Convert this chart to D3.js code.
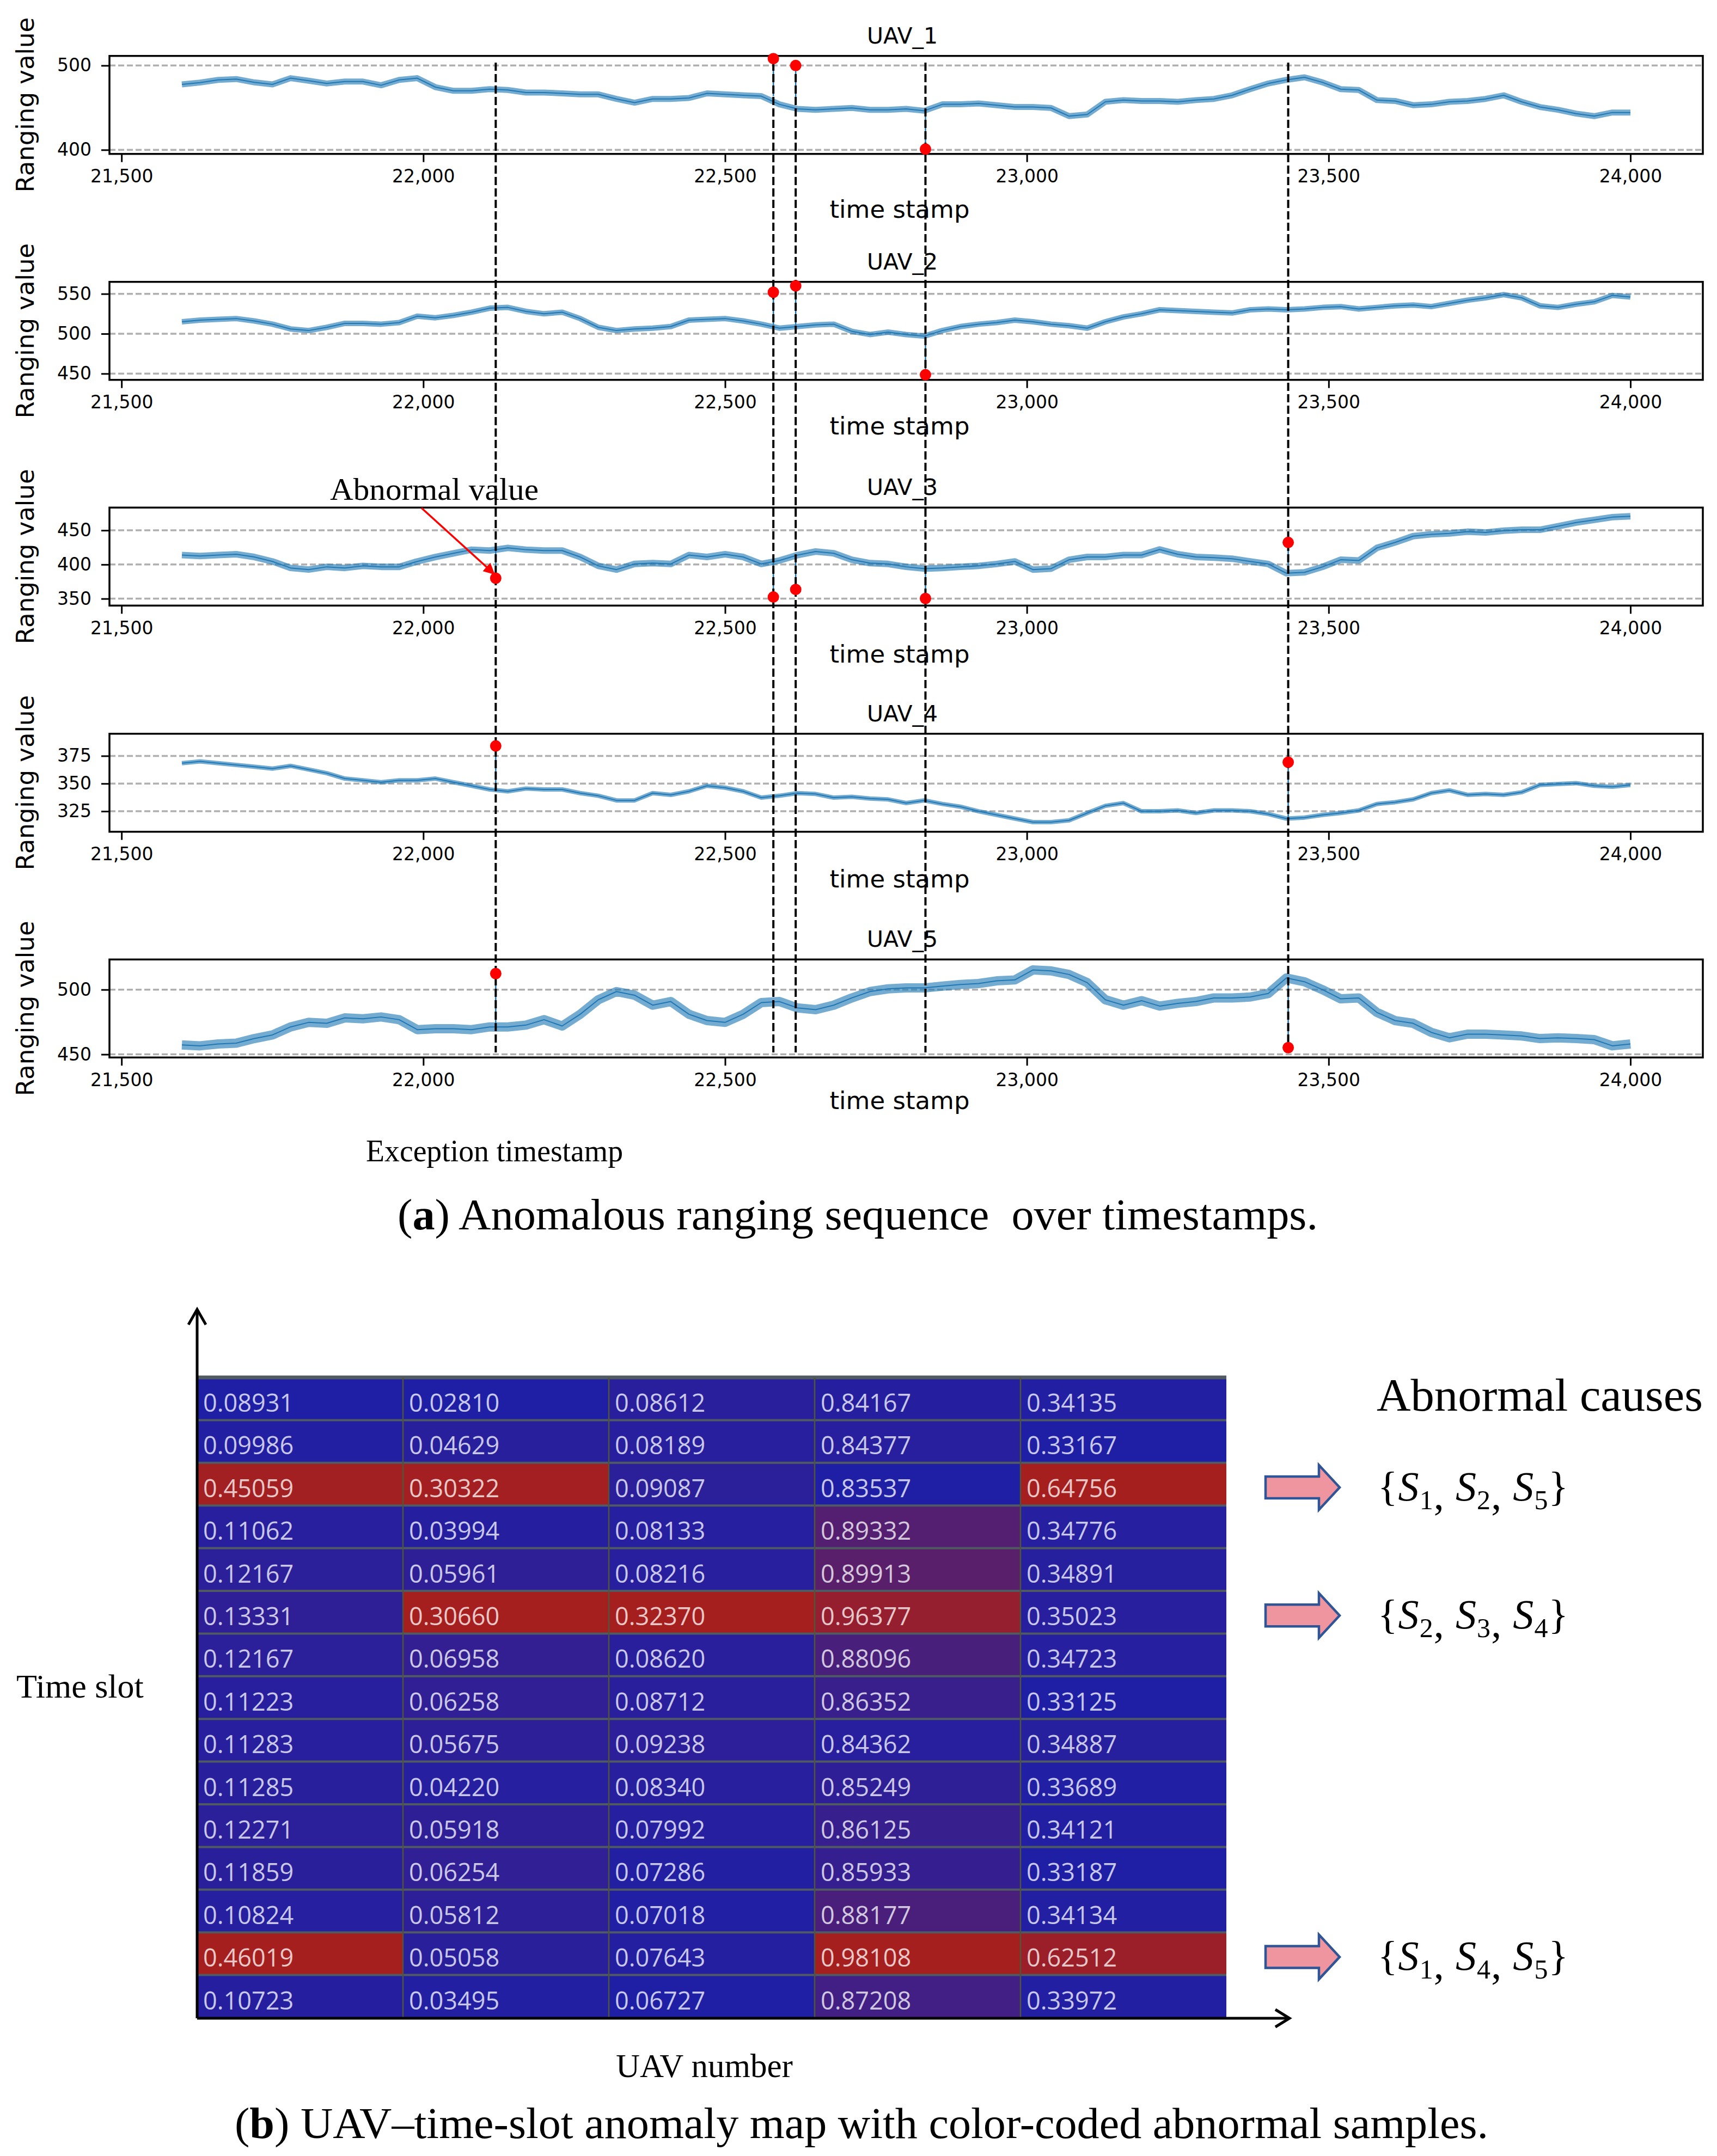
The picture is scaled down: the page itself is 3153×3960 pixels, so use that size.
<!DOCTYPE html>
<html><head><meta charset="utf-8">
<script src="https://cdn.jsdelivr.net/npm/d3@7"></script>
<style>body{margin:0;background:#fff}svg{display:block}</style>
</head><body>
<svg id="chart" width="3153" height="3960"></svg>
<script>
// ---------------- DATA ----------------
const timeStamps = d3.range(21600, 24001, 30); // sampling grid of the ranging sequences
const uavNames = ["UAV_1", "UAV_2", "UAV_3", "UAV_4", "UAV_5"];
const xTickValues = [21500, 22000, 22500, 23000, 23500, 24000];
const xLimits = [21480, 24120];
const yLimits = [[395.2, 511.4], [442.2, 565.0], [339.9, 483.3], [306.5, 395.0], [447.6, 523.3]];
const yTickValues = [[400, 500], [450, 500, 550], [350, 400, 450], [325, 350, 375], [450, 500]];

const uav1Ranging = [
  477.6, 479.8, 483, 484, 480, 477.6, 485, 482, 478.7, 481,
  481, 476.6, 483, 485, 474.4, 470, 470, 472, 471, 468,
  468, 467, 465.8, 465.8, 460.4, 456, 460.4, 460.4, 461.5, 467,
  465.8, 464.7, 463.7, 454, 448.6, 447.5, 448.6, 449.7, 447.5, 447.5,
  448.6, 446.4, 454, 454, 455, 453, 450.8, 450.8, 449.7, 440,
  442, 457, 459, 458, 458, 457, 459, 460.4, 464.7, 472,
  478.7, 483, 486, 480, 472, 471, 459, 458, 453, 454,
  457, 458, 460.4, 464.7, 457, 450.8, 447.5, 443, 440, 444.3,
  444.3];
const uav2Ranging = [
  515, 517, 518, 519, 516, 512, 506, 504, 508, 513,
  513, 512, 514, 522, 520, 523, 527, 532, 533, 528,
  525, 527, 519, 508, 504, 506, 507, 509, 517, 518,
  519, 516, 512, 507, 509, 511, 512, 503, 499, 502,
  499, 497, 504, 509, 512, 514, 517, 515, 512, 510,
  507, 515, 521, 525, 530, 529, 528, 527, 526, 530,
  531, 530, 531, 533, 534, 531, 533, 535, 536, 534,
  538, 542, 545, 549, 545, 535, 533, 537, 540, 548,
  546];
const uav3Ranging = [
  413.8, 412.4, 413.8, 415, 411, 404.5, 395, 392.6, 396.6, 395,
  398, 396.6, 396.6, 404.5, 411, 416.4, 421.7, 420.4, 424.3, 421.7,
  420.4, 420.4, 411, 398, 392.6, 400.8, 402, 400.8, 413.8, 411,
  415, 411, 400.8, 405.8, 413.8, 419, 416.4, 407, 402, 400.8,
  396.6, 394, 395, 396.6, 398, 400.8, 404.5, 392.6, 394, 407,
  411, 411, 413.8, 413.8, 422, 415, 411, 410, 408.5, 404.5,
  400.8, 387.3, 388.6, 396.6, 407, 405.8, 424.3, 432.3, 441.5, 444.2,
  445.5, 448, 446.8, 449.5, 450.8, 450.8, 456, 461.4, 465.3, 469.3,
  470.6];
const uav4Ranging = [
  368.4, 370, 368.4, 366.8, 365.2, 363.5, 366, 362.7, 359.4, 354.5,
  352.9, 351.2, 352.9, 352.9, 354.5, 351.2, 348, 344.7, 343, 345.5,
  344.7, 344.7, 341.4, 339, 334.8, 334.8, 341.4, 339.8, 343, 348,
  346.3, 343, 337.3, 339, 341.4, 340.6, 337.3, 338.1, 336.5, 335.7,
  332.4, 334.8, 331.6, 329.1, 325, 321.7, 318.4, 315.2, 315.2, 316.8,
  323.4, 329.9, 332.4, 325, 325, 325.8, 323.4, 325.8, 325.8, 325,
  322.5, 318.4, 319.3, 321.7, 323.4, 325.8, 331.6, 333.2, 335.7, 341.4,
  343.9, 339.8, 340.6, 339.8, 342.2, 348.8, 349.6, 350.4, 348, 347.1,
  348.8];
const uav5Ranging = [
  457.3, 456.6, 458, 458.7, 462.2, 465, 471.2, 474.7, 474, 478.2,
  477.5, 478.9, 476.8, 469.1, 469.8, 469.8, 469.1, 471.2, 471.2, 472.6,
  476.8, 471.9, 481, 492.2, 498.5, 495.7, 488, 490.8, 481, 476.1,
  474.7, 481, 490, 490.8, 485.9, 484.5, 488, 493.6, 498.5, 500.6,
  501.3, 501.3, 502.7, 504, 504.7, 506.8, 507.5, 515.2, 514.5, 511.7,
  505.4, 492.2, 488, 491.5, 487.3, 489.4, 490.8, 493.6, 493.6, 494.3,
  497, 509, 506.1, 499.9, 492.9, 493.6, 482.4, 476.1, 474, 467,
  462.8, 465.6, 465.6, 465, 464.2, 462.2, 462.8, 462.2, 461.4, 456.6,
  458];

const exceptionTimes = [22120, 22580, 22617, 22832, 23433];
const anomalyTimes  = [[22580, 22617, 22832], [22580, 22617, 22832], [22120, 22580, 22617, 22832, 23433], [22120, 23433], [22120, 23433]];
const anomalyValues = [[508.2, 500, 400.9], [552, 560, 448.6], [380, 352.4, 363.5, 350.3, 432.3], [384, 369.3], [512.4, 455.2]];
const anomalyBase   = [[463.7, 454, 448.6], [511, 511, 497], [420, 405.8, 411, 395, 387], [343, 318.4], [474, 507.5]];

// heat map (b)
const timeSlots = d3.range(1, 16);
const uavNumbers = ["S1", "S2", "S3", "S4", "S5"];
const scoreS1 = [0.08931, 0.09986, 0.45059, 0.11062, 0.12167, 0.13331, 0.12167, 0.11223, 0.11283, 0.11285, 0.12271, 0.11859, 0.10824, 0.46019, 0.10723];
const scoreS2 = [0.02810, 0.04629, 0.30322, 0.03994, 0.05961, 0.30660, 0.06958, 0.06258, 0.05675, 0.04220, 0.05918, 0.06254, 0.05812, 0.05058, 0.03495];
const scoreS3 = [0.08612, 0.08189, 0.09087, 0.08133, 0.08216, 0.32370, 0.08620, 0.08712, 0.09238, 0.08340, 0.07992, 0.07286, 0.07018, 0.07643, 0.06727];
const scoreS4 = [0.84167, 0.84377, 0.83537, 0.89332, 0.89913, 0.96377, 0.88096, 0.86352, 0.84362, 0.85249, 0.86125, 0.85933, 0.88177, 0.98108, 0.87208];
const scoreS5 = [0.34135, 0.33167, 0.64756, 0.34776, 0.34891, 0.35023, 0.34723, 0.33125, 0.34887, 0.33689, 0.34121, 0.33187, 0.34134, 0.62512, 0.33972];
const causeRows = [3, 6, 14];
const causeSets = [[1, 2, 5], [2, 3, 4], [1, 4, 5]];

// ---------------- LAYOUT / STYLE ----------------
const series = [uav1Ranging, uav2Ranging, uav3Ranging, uav4Ranging, uav5Ranging];
const scores = [scoreS1, scoreS2, scoreS3, scoreS4, scoreS5];
const box = {left: 201, right: 3127, height: 180, tops: [102.7, 517.7, 932.3, 1347.7, 1762.3]};
const bandWidths = [11, 10, 12, 8, 17];
const xLabelOffsets = [117, 100, 105, 102, 95];
const SANS = "DejaVu Sans";
const SERIF = "Liberation Serif";
const BLUE = "#1f77b4";

const svg = d3.select("#chart");
svg.append("rect").attr("width", 3153).attr("height", 3960).attr("fill", "#fff");

const x = d3.scaleLinear().domain(xLimits).range([box.left, box.right]);
const yScales = [];

series.forEach((vals, i) => {
  const top = box.tops[i], bottom = top + box.height;
  const y = d3.scaleLinear().domain(yLimits[i]).range([bottom, top]);
  yScales.push(y);
  const g = svg.append("g");

  // grid
  g.selectAll("line.grid").data(yTickValues[i]).join("line")
    .attr("x1", box.left).attr("x2", box.right)
    .attr("y1", d => y(d)).attr("y2", d => y(d))
    .attr("stroke", "#b0b0b0").attr("stroke-width", 3.5).attr("stroke-dasharray", "11 5");

  // series
  const pts = timeStamps.map((t, j) => [t, vals[j]]);
  const line = d3.line().x(d => x(d[0])).y(d => y(d[1]));
  g.append("path").attr("d", line(pts)).attr("fill", "none")
    .attr("stroke", BLUE).attr("stroke-opacity", 0.62)
    .attr("stroke-width", bandWidths[i]).attr("stroke-linejoin", "round");
  g.append("path").attr("d", line(pts)).attr("fill", "none")
    .attr("stroke", BLUE).attr("stroke-width", 2).attr("stroke-linejoin", "round");

  // anomaly stems
  const an = anomalyTimes[i].map((t, k) => ({t, v: anomalyValues[i][k], b: anomalyBase[i][k]}));
  g.selectAll("line.stem").data(an).join("line")
    .attr("x1", d => x(d.t)).attr("x2", d => x(d.t))
    .attr("y1", d => y(d.b)).attr("y2", d => y(d.v))
    .attr("stroke", BLUE).attr("stroke-width", 2.5);

  // axes
  const xa = g.append("g").attr("transform", `translate(0,${bottom})`)
    .call(d3.axisBottom(x).tickValues(xTickValues).tickFormat(d3.format(",")).tickSize(15).tickPadding(14));
  const ya = g.append("g").attr("transform", `translate(${box.left},0)`)
    .call(d3.axisLeft(y).tickValues(yTickValues[i]).tickFormat(d3.format("d")).tickSize(15).tickPadding(18));
  [xa, ya].forEach(a => {
    a.select(".domain").remove();
    a.selectAll("line").attr("stroke", "#000").attr("stroke-width", 3);
    a.selectAll("text").attr("font-family", SANS).attr("font-size", 33).attr("fill", "#000");
  });

  // frame
  g.append("rect").attr("x", box.left).attr("y", top)
    .attr("width", box.right - box.left).attr("height", box.height)
    .attr("fill", "none").attr("stroke", "#000").attr("stroke-width", 3.5);

  // title, labels
  g.append("text").attr("x", 1657).attr("y", top - 23)
    .attr("text-anchor", "middle").attr("font-family", SANS).attr("font-size", 41).text(uavNames[i]);
  g.append("text").attr("x", 1652).attr("y", bottom + xLabelOffsets[i])
    .attr("text-anchor", "middle").attr("font-family", SANS).attr("font-size", 45).text("time stamp");
  g.append("text").attr("transform", `translate(62,${top + box.height / 2}) rotate(-90)`)
    .attr("text-anchor", "middle").attr("font-family", SANS).attr("font-size", 45).text("Ranging value");
});

// exception timestamp lines spanning all panels
svg.append("g").selectAll("line").data(exceptionTimes).join("line")
  .attr("x1", d => x(d)).attr("x2", d => x(d))
  .attr("y1", 115).attr("y2", 1933)
  .attr("stroke", "#000").attr("stroke-width", 4).attr("stroke-dasharray", "15 6");

// red anomaly dots
series.forEach((vals, i) => {
  const y = yScales[i];
  const an = anomalyTimes[i].map((t, k) => ({t, v: anomalyValues[i][k]}));
  svg.append("g").selectAll("circle").data(an).join("circle")
    .attr("cx", d => x(d.t)).attr("cy", d => y(d.v)).attr("r", 10.5).attr("fill", "#ff0000");
});

// "Abnormal value" annotation (UAV_3, first anomaly)
const defs = svg.append("defs");
defs.append("marker").attr("id", "redhead").attr("viewBox", "0 0 10 10").attr("refX", 9).attr("refY", 5)
  .attr("markerWidth", 6).attr("markerHeight", 6).attr("orient", "auto")
  .append("path").attr("d", "M0,0L10,5L0,10Z").attr("fill", "#ff0000");
svg.append("line").attr("x1", 774).attr("y1", 933)
  .attr("x2", x(anomalyTimes[2][0]) - 3).attr("y2", yScales[2](anomalyValues[2][0]) - 8)
  .attr("stroke", "#ff0000").attr("stroke-width", 3.5).attr("marker-end", "url(#redhead)");
svg.append("text").attr("x", 606).attr("y", 918).attr("font-family", SERIF).attr("font-size", 57)
  .attr("textLength", 383).attr("lengthAdjust", "spacingAndGlyphs").text("Abnormal value");

svg.append("text").attr("x", 672).attr("y", 2133).attr("font-family", SERIF).attr("font-size", 57)
  .attr("textLength", 472).attr("lengthAdjust", "spacingAndGlyphs").text("Exception timestamp");

// caption (a)
const capA = svg.append("text").attr("x", 730).attr("y", 2258).attr("font-family", SERIF).attr("font-size", 80)
  .attr("textLength", 1690).attr("lengthAdjust", "spacingAndGlyphs").style("white-space", "pre");
capA.append("tspan").text("(");
capA.append("tspan").attr("font-weight", "bold").text("a");
capA.append("tspan").text(") Anomalous ranging sequence  over timestamps.");

// ---------------- HEAT MAP (b) ----------------
const hx = d3.scaleBand().domain(uavNumbers).range([362, 2252]);
const hy = d3.scaleBand().domain(timeSlots).range([2530, 3706]);
const colBlue = "#1f1fa6", colRed = "#a51f1f";
const colorScales = scores.map(col => d3.scaleLinear().domain(d3.extent(col)).range([colBlue, colRed]).interpolate(d3.interpolateRgb));

const cells = [];
scores.forEach((col, c) => col.forEach((v, r) => cells.push({c, r, v})));
const hg = svg.append("g");
hg.selectAll("rect").data(cells).join("rect")
  .attr("x", d => hx(uavNumbers[d.c])).attr("y", d => hy(timeSlots[d.r]))
  .attr("width", hx.bandwidth()).attr("height", hy.bandwidth())
  .attr("fill", d => colorScales[d.c](d.v));
// row separators
hg.selectAll("line.row").data(timeSlots).join("line")
  .attr("x1", 362).attr("x2", 2252)
  .attr("y1", d => hy(d)).attr("y2", d => hy(d))
  .attr("stroke", "#505a62").attr("stroke-width", d => d === 1 ? 7 : 4);
// column separators
hg.selectAll("line.col").data(uavNumbers.slice(1)).join("line")
  .attr("x1", d => hx(d)).attr("x2", d => hx(d))
  .attr("y1", 2530).attr("y2", 3706)
  .attr("stroke", "#50563a").attr("stroke-width", 2.5);
// cell text
hg.selectAll("text").data(cells).join("text")
  .attr("x", d => hx(uavNumbers[d.c]) + 11).attr("y", d => hy(timeSlots[d.r]) + 63)
  .attr("font-family", "Open Sans").attr("font-size", 45)
  .attr("fill", "#ffffff").attr("fill-opacity", 0.75)
  .text(d => d3.format(".5f")(d.v));

// axes arrows
const ax = svg.append("g").attr("stroke", "#000").attr("stroke-width", 5).attr("fill", "none");
ax.append("line").attr("x1", 362).attr("y1", 3707).attr("x2", 362).attr("y2", 2405);
ax.append("path").attr("d", "M346,2433L362,2405L378,2433");
ax.append("line").attr("x1", 362).attr("y1", 3707).attr("x2", 2368).attr("y2", 3707);
ax.append("path").attr("d", "M2342,3691L2368,3707L2342,3723");

svg.append("text").attr("x", 30).attr("y", 3118).attr("font-family", SERIF).attr("font-size", 62).text("Time slot");
svg.append("text").attr("x", 1131).attr("y", 3815).attr("font-family", SERIF).attr("font-size", 61).text("UAV number");
svg.append("text").attr("x", 2528).attr("y", 2591).attr("font-family", SERIF).attr("font-size", 85)
  .attr("textLength", 599).attr("lengthAdjust", "spacingAndGlyphs").text("Abnormal causes");

// cause arrows and sets
causeRows.forEach((r, i) => {
  const cy = hy(r) + hy.bandwidth() / 2 + 6;
  const ax0 = 2324, ax1 = 2422, ax2 = 2460, bh = 20, hh = 41;
  svg.append("path")
    .attr("d", `M${ax0},${cy - bh}L${ax1},${cy - bh}L${ax1},${cy - hh}L${ax2},${cy}L${ax1},${cy + hh}L${ax1},${cy + bh}L${ax0},${cy + bh}Z`)
    .attr("fill", "#ee959f").attr("stroke", "#2f5597").attr("stroke-width", 4.5);
  const t = svg.append("text").attr("x", 2530).attr("y", cy + 24)
    .attr("font-family", SERIF).attr("font-size", 76)
    .attr("textLength", 350).attr("lengthAdjust", "spacing").style("white-space", "pre");
  t.append("tspan").text("{");
  causeSets[i].forEach((s, k) => {
    t.append("tspan").attr("font-style", "italic").attr("dy", k === 0 ? 0 : -16).text("S");
    t.append("tspan").attr("font-size", 50).attr("dy", 16).text(String(s));
    if (k < 2) t.append("tspan").text(", ");
  });
  t.append("tspan").attr("dy", -16).text("}");
});

// caption (b)
const capB = svg.append("text").attr("x", 431).attr("y", 3927).attr("font-family", SERIF).attr("font-size", 80)
  .attr("textLength", 2302).attr("lengthAdjust", "spacingAndGlyphs");
capB.append("tspan").text("(");
capB.append("tspan").attr("font-weight", "bold").text("b");
capB.append("tspan").text(") UAV–time-slot anomaly map with color-coded abnormal samples.");
</script>
</body></html>
